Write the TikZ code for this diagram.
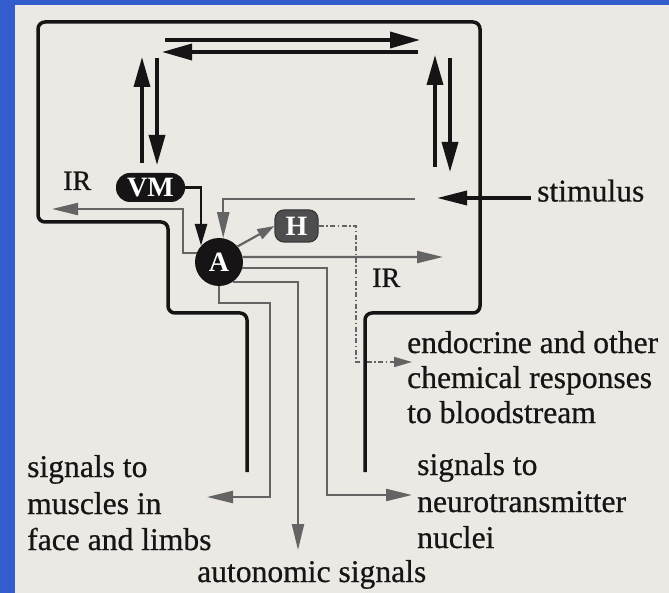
\documentclass[tikz,border=0pt]{standalone}
\usepackage{fontspec}
\setmainfont{Liberation Serif}
\newfontfamily\lblfont{Liberation Serif}[FakeBold=0.6]
\usetikzlibrary{arrows.meta,calc}
\definecolor{bluebg}{RGB}{51,92,204}
\definecolor{paper}{RGB}{236,232,227}
\definecolor{ink}{RGB}{22,20,20}
\definecolor{grayline}{RGB}{100,100,100}
\definecolor{hfill}{RGB}{78,78,78}
\begin{document}
\begin{tikzpicture}[x=1pt,y=-1pt,
  outline/.style={draw=ink, line width=3.5pt, rounded corners=7pt},
  blk/.style={draw=ink, line width=3.5pt, -{Triangle[length=30pt,width=16pt]}},
  blksmall/.style={draw=ink, line width=2.8pt, -{Triangle[length=22pt,width=12pt]}},
  gry/.style={draw=grayline, line width=2.2pt, -{Triangle[length=26pt,width=12pt]}},
  gryshort/.style={draw=grayline, line width=2.2pt, -{Triangle[length=17pt,width=11pt]}},
  dashdotline/.style={draw=grayline, line width=1.6pt, dash pattern=on 5pt off 2.5pt on 1.5pt off 2.5pt, -{Triangle[length=18pt,width=10pt]}},
  lbl/.style={anchor=base west, inner sep=0pt, font=\lblfont\fontsize{31.6}{36}\selectfont, text=ink},
  irlbl/.style={anchor=base west, inner sep=0pt, font=\lblfont\fontsize{28}{30}\selectfont, text=ink},
  boxtext/.style={text=white, font=\bfseries\fontsize{28}{28}\selectfont, inner sep=0pt}
]
\useasboundingbox (0,0) rectangle (669,593);
\fill[bluebg] (0,0) rectangle (669,593);
\fill[paper] (15,5) rectangle (669,593);

% outline of the brain region
\draw[outline] (247,472) -- (247,313) -- (168,313) -- (168,222) -- (38,222) -- (38,22)
  -- (480,22) -- (480,313) -- (365,313) -- (365,472);

% free end points
\coordinate (topRs) at (165,40);  \coordinate (topRe) at (420,40);
\coordinate (topLs) at (418,52);  \coordinate (topLe) at (162,52);
\coordinate (vlUs) at (142,163);  \coordinate (vlUe) at (142,57);
\coordinate (vlDs) at (157,58);   \coordinate (vlDe) at (157,165);
\coordinate (vrUs) at (435,167);  \coordinate (vrUe) at (435,55);
\coordinate (vrDs) at (450,58);   \coordinate (vrDe) at (450,172);
\coordinate (stimSrc) at (531,198); \coordinate (stimTip) at (437,198);
\coordinate (stimIn) at (415,199);
\coordinate (irLtip) at (52,209);
\coordinate (irRtip) at (443,257);
\coordinate (neuTip) at (412,495);
\coordinate (autTip) at (298,550);
\coordinate (musTip) at (207,497);
\coordinate (endTip) at (412,362);

% nodes
\node[circle, fill=ink, minimum size=48pt, boxtext] (A) at (219,262) {A};
\node[rectangle, rounded corners=14pt, fill=ink, minimum width=69pt, minimum height=29pt, boxtext] (VM) at (150.5,187.5) {VM};
\node[rectangle, rounded corners=9pt, fill=hfill, draw=ink!85, line width=1.2pt, minimum width=43pt, minimum height=32pt, boxtext] (H) at (296.5,226) {H};

% black arrows
\draw[blk] (topRs) -- (topRe);
\draw[blk] (topLs) -- (topLe);
\draw[blk] (vlUs) -- (vlUe);
\draw[blk] (vlDs) -- (vlDe);
\draw[blk] (vrUs) -- (vrUe);
\draw[blk] (vrDs) -- (vrDe);
\draw[draw=ink, line width=3.5pt, -{Triangle[length=30pt,width=14pt]}] (stimSrc) -- (stimTip);
\draw[blksmall] (VM.east) -| (A.138.6);

% gray pathways
\draw[gry] (stimIn) -| (A.80);
\draw[gry] (A.158) -| (183,209) -- (irLtip);
\draw[gry] (A.12) -- (irRtip);
\draw[gry] (A.-14.5) -| (327,495) -- (neuTip);
\draw[gry] (A.-56.4) -| (autTip);
\draw[gry] (A.south) |- (270,303) -- (270,497) -- (musTip);
\draw[gryshort] (A.40) -- (H.west);
\draw[dashdotline] (H.east) -| (356,362) -- (endTip);

% labels
\node[lbl] (stim) at (537,201.5) {stimulus};
\node[irlbl] (irL) at (63,190) {IR};
\node[irlbl] (irR) at (372,287) {IR};
\node[lbl] (endo1) at (407,353) {endocrine and other};
\node[lbl] (endo2) at (407,388) {chemical responses};
\node[lbl] (endo3) at (407,423) {to bloodstream};
\node[lbl] (mus1) at (27,477) {signals to};
\node[lbl] (mus2) at (27,514) {muscles in};
\node[lbl] (mus3) at (27,550) {face and limbs};
\node[lbl] (neu1) at (417,475) {signals to};
\node[lbl] (neu2) at (417,512) {neurotransmitter};
\node[lbl] (neu3) at (417,548) {nuclei};
\node[lbl] (aut) at (197,582) {autonomic signals};
\end{tikzpicture}
\end{document}
